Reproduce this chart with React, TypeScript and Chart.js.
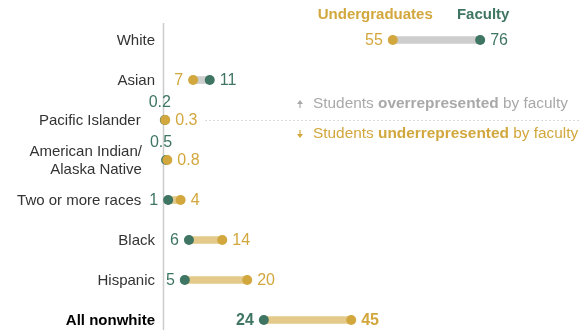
import React, { useEffect, useRef } from "react";
import { Chart, registerables } from "chart.js";

Chart.register(...registerables);

const categories: (string | string[])[] = [
  "White",
  "Asian",
  "Pacific Islander",
  ["American Indian/", "Alaska Native"],
  "Two or more races",
  "Black",
  "Hispanic",
  "All nonwhite",
];
const undergraduates = [55, 7, 0.3, 0.8, 4, 14, 20, 45];
const faculty = [76, 11, 0.2, 0.5, 1, 6, 5, 24];
const seriesNames = ["Undergraduates", "Faculty"];
const noteOver = ["Students ", "overrepresented", " by faculty"];
const noteUnder = ["Students ", "underrepresented", " by faculty"];

const GOLD = "#d2a73d";
const GREEN = "#3e7563";
const GOLD_LIGHT = "#e3c98a";
const GRAY_BAR = "#cdcdcd";
const GRAY_TEXT = "#a9a9a9";
const FONT = "'Liberation Sans', Arial, sans-serif";

const fmt = (v: number) => String(v);

const axisPlugin = {
  id: "axisline",
  beforeDatasetsDraw(chart: any) {
    const ctx = chart.ctx as CanvasRenderingContext2D;
    const xs = chart.scales.x;
    const ys = chart.scales.y;
    const x0 = xs.getPixelForValue(0) - 0.5;
    ctx.save();
    ctx.strokeStyle = "#cccccc";
    ctx.lineWidth = 1.5;
    ctx.beginPath();
    ctx.moveTo(x0, ys.getPixelForValue(-0.425));
    ctx.lineTo(x0, ys.getPixelForValue(7.25));
    ctx.stroke();
    ctx.restore();
  },
};

const labelPlugin = {
  id: "labels",
  afterDraw(chart: any) {
    const ctx = chart.ctx as CanvasRenderingContext2D;
    const xs = chart.scales.x;
    const ys = chart.scales.y;
    const area = chart.chartArea;
    const axisX = xs.getPixelForValue(0);
    ctx.save();
    ctx.textBaseline = "middle";
    categories.forEach((cat, i) => {
      const u = undergraduates[i];
      const f = faculty[i];
      const y = ys.getPixelForValue(i);
      const bold = i === categories.length - 1;
      ctx.font = `${bold ? "bold " : ""}16px ${FONT}`;
      const lowIsU = u < f;
      const lo = Math.min(u, f);
      const hi = Math.max(u, f);
      const loColor = lowIsU ? GOLD : GREEN;
      const hiColor = lowIsU ? GREEN : GOLD;
      const xl = xs.getPixelForValue(lo);
      const xh = xs.getPixelForValue(hi);
      let loStart: number;
      const loW = ctx.measureText(fmt(lo)).width;
      if (hi < 1) {
        ctx.textAlign = "center";
        ctx.fillStyle = loColor;
        ctx.fillText(fmt(lo), xl - 5, y - 17);
        loStart = xl - 5 - loW / 2;
      } else {
        ctx.textAlign = "right";
        ctx.fillStyle = loColor;
        ctx.fillText(fmt(lo), xl - 10, y + 1);
        loStart = xl - 10 - loW;
      }
      ctx.textAlign = "left";
      ctx.fillStyle = hiColor;
      ctx.fillText(fmt(hi), xh + 10, y + 1);

      const right = Math.min(axisX - 9, loStart - 8);
      ctx.textAlign = "right";
      ctx.fillStyle = bold ? "#000000" : "#333333";
      ctx.font = `${bold ? "bold " : ""}15px ${FONT}`;
      const lines = Array.isArray(cat) ? cat : [cat];
      const lh = 18;
      lines.forEach((ln, k) => {
        ctx.fillText(ln, right, y + 1 + (k - (lines.length - 1) / 2) * lh);
      });
    });
    const y0 = ys.getPixelForValue(0);
    ctx.font = `bold 15px ${FONT}`;
    ctx.textAlign = "right";
    ctx.fillStyle = GOLD;
    ctx.fillText(seriesNames[0], xs.getPixelForValue(undergraduates[0]) + 40, y0 - 25);
    ctx.textAlign = "center";
    ctx.fillStyle = GREEN;
    ctx.fillText(seriesNames[1], xs.getPixelForValue(faculty[0]) + 3, y0 - 25);

    const yd = ys.getPixelForValue(2);
    ctx.strokeStyle = "#b5b5b5";
    ctx.lineWidth = 1;
    ctx.setLineDash([1, 3]);
    ctx.beginPath();
    ctx.moveTo(xs.getPixelForValue(10), yd + 0.5);
    ctx.lineTo(area.right, yd + 0.5);
    ctx.stroke();
    ctx.setLineDash([]);

    const drawNote = (parts: string[], color: string, ty: number, up: boolean) => {
      let x = 313;
      ctx.textAlign = "left";
      ctx.fillStyle = color;
      parts.forEach((p, k) => {
        ctx.font = `${k === 1 ? "bold " : ""}15.4px ${FONT}`;
        ctx.fillText(p, x, ty);
        x += ctx.measureText(p).width;
      });
      const ax = 300;
      ctx.strokeStyle = color;
      ctx.lineWidth = 1.2;
      ctx.beginPath();
      if (up) {
        ctx.moveTo(ax, ty - 1);
        ctx.lineTo(ax, ty + 4);
      } else {
        ctx.moveTo(ax, ty - 4);
        ctx.lineTo(ax, ty + 1);
      }
      ctx.stroke();
      ctx.beginPath();
      if (up) {
        ctx.moveTo(ax - 3, ty);
        ctx.lineTo(ax + 3, ty);
        ctx.lineTo(ax, ty - 4);
      } else {
        ctx.moveTo(ax - 3, ty);
        ctx.lineTo(ax + 3, ty);
        ctx.lineTo(ax, ty + 4);
      }
      ctx.closePath();
      ctx.fill();
    };
    drawNote(noteOver, GRAY_TEXT, yd - 16, true);
    drawNote(noteUnder, GOLD, yd + 14, false);
    ctx.restore();
  },
};

export default function App() {
  const ref = useRef<HTMLCanvasElement | null>(null);
  useEffect(() => {
    if (!ref.current) return;
    const chart = new Chart(ref.current, {
      type: "bar",
      data: {
        datasets: [
          {
            type: "bar",
            data: categories.map((_, i) => ({
              y: i,
              x: [Math.min(undergraduates[i], faculty[i]), Math.max(undergraduates[i], faculty[i])],
            })) as any,
            backgroundColor: categories.map((_, i) =>
              faculty[i] > undergraduates[i] ? GRAY_BAR : GOLD_LIGHT
            ),
            barThickness: 7,
            borderSkipped: false,
            borderWidth: 0,
            order: 2,
            clip: false as any,
          },
          {
            type: "line",
            data: faculty.map((v, i) => ({ x: v, y: i })) as any,
            showLine: false,
            pointRadius: 5,
            pointBackgroundColor: GREEN,
            pointBorderWidth: 0,
            order: 1,
            clip: false as any,
          },
          {
            type: "line",
            data: undergraduates.map((v, i) => ({ x: v, y: i })) as any,
            showLine: false,
            pointRadius: 5,
            pointBackgroundColor: GOLD,
            pointBorderWidth: 0,
            order: 0,
            clip: false as any,
          },
        ] as any,
      },
      options: {
        indexAxis: "y",
        animation: false,
        responsive: true,
        maintainAspectRatio: false,
        events: [],
        layout: { padding: { left: 164, right: 0, top: 0, bottom: 0 }, autoPadding: false },
        plugins: { legend: { display: false }, tooltip: { enabled: false } },
        scales: {
          x: { type: "linear", min: 0, max: 100, display: false, offset: false },
          y: { type: "linear", reverse: true, min: -1, max: 7.25, display: false, offset: false },
        },
      } as any,
      plugins: [axisPlugin, labelPlugin],
    });
    return () => chart.destroy();
  }, []);
  return (
    <div style={{ position: "absolute", left: 0, top: 0, width: 580, height: 330, background: "#fff" }}>
      <canvas ref={ref} />
    </div>
  );
}
